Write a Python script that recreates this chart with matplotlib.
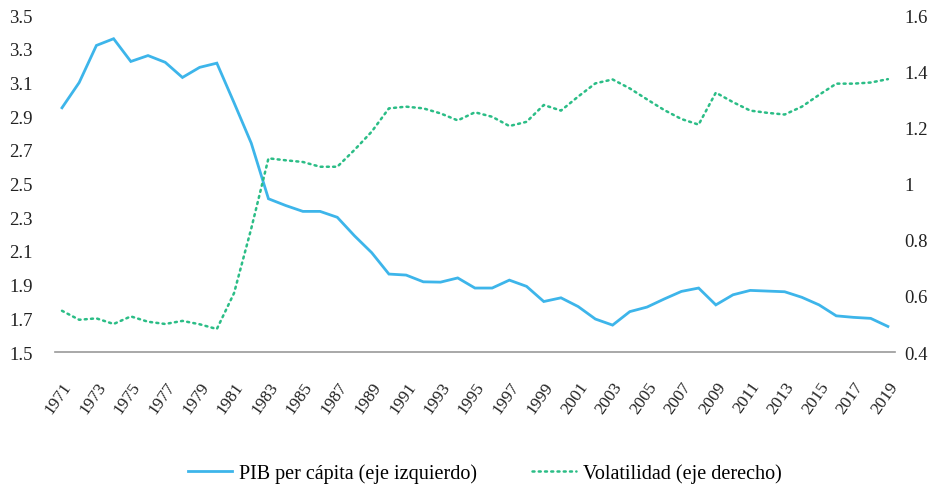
import matplotlib
matplotlib.use("Agg")
import matplotlib.pyplot as plt

plt.rcParams.update({
    'font.family': ['Liberation Serif', 'DejaVu Serif'],
    'font.size': 12,
})

years = list(range(1971, 2020))

# PIB per cápita (eje izquierdo)
pib = [2.95, 3.10, 3.32, 3.36, 3.225, 3.26, 3.22, 3.13, 3.19, 3.215,
       2.98, 2.74, 2.41, 2.37, 2.335, 2.335, 2.30, 2.19, 2.09, 1.963,
       1.957, 1.917, 1.915, 1.94, 1.88, 1.88, 1.927, 1.89, 1.80, 1.822,
       1.77, 1.696, 1.66, 1.74, 1.767, 1.815, 1.86, 1.88, 1.78, 1.84,
       1.866, 1.862, 1.858, 1.825, 1.78, 1.715, 1.706, 1.70, 1.652]

# Volatilidad (eje derecho)
volat = [0.547, 0.515, 0.52, 0.50, 0.527, 0.508, 0.50, 0.511, 0.499, 0.482,
         0.61, 0.84, 1.09, 1.083, 1.077, 1.06, 1.06, 1.12, 1.185, 1.268,
         1.274, 1.268, 1.25, 1.225, 1.254, 1.238, 1.205, 1.22, 1.28, 1.26,
         1.31, 1.357, 1.371, 1.339, 1.30, 1.262, 1.23, 1.21, 1.324, 1.29,
         1.26, 1.252, 1.246, 1.274, 1.316, 1.356, 1.356, 1.36, 1.372]

left_ticks = [1.5, 1.7, 1.9, 2.1, 2.3, 2.5, 2.7, 2.9, 3.1, 3.3, 3.5]
right_ticks = [0.4, 0.6, 0.8, 1.0, 1.2, 1.4, 1.6]
right_labels = ['0.4', '0.6', '0.8', '1', '1.2', '1.4', '1.6']

blue = '#3db5ea'
green = '#2bbd86'

fig = plt.figure(figsize=(9.34, 4.89), dpi=100)
ax = fig.add_axes([0.059, 0.278, 0.899, 0.689])
ax2 = ax.twinx()

l1, = ax.plot(years, pib, color=blue, lw=2.0, solid_joinstyle='miter',
              label='PIB per cápita (eje izquierdo)')
l2, = ax2.plot(years, volat, color=green, lw=1.8, linestyle=(0, (0.8, 1.7)),
               dash_capstyle='round', label='Volatilidad (eje derecho)')

ax.set_xlim(1970.6, 2019.4)
ax.set_ylim(1.5, 3.5)
ax2.set_ylim(0.4, 1.6)
ax.set_yticks(left_ticks)
ax.set_yticklabels([f'{t:.1f}' for t in left_ticks])
ax2.set_yticks(right_ticks)
ax2.set_yticklabels(right_labels)

xt = years[::2]
ax.set_xticks(xt)
ax.set_xticklabels([str(y) for y in xt], rotation=55, ha='right',
                   rotation_mode='anchor')

for a in (ax, ax2):
    for s in a.spines.values():
        s.set_visible(False)
    a.tick_params(length=0, labelsize=13.5, colors='#222222')
ax.spines['bottom'].set_visible(True)
ax.spines['bottom'].set_color('#999999')
ax.spines['bottom'].set_linewidth(1.2)
ax.tick_params(axis='x', pad=19, labelsize=12.5)
ax.tick_params(axis='y', pad=16)
ax2.tick_params(axis='y', pad=7)

fig.legend([l1, l2], [l1.get_label(), l2.get_label()], loc='center',
           bbox_to_anchor=(0.519, 0.03), ncol=2, frameon=False,
           fontsize=14.5, handlelength=2.2, handletextpad=0.35,
           columnspacing=2.7)

fig.savefig('out.png', dpi=100)
